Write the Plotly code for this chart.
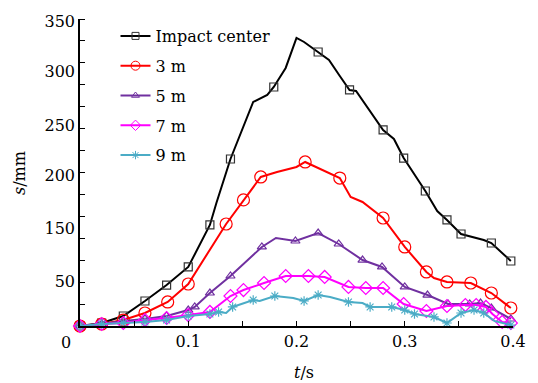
import plotly.graph_objects as go

# ---- data ----
t_center = [0, 0.02, 0.04, 0.06, 0.08, 0.10, 0.12, 0.126, 0.139, 0.16, 0.173, 0.179, 0.19, 0.20, 0.207,
            0.22, 0.23, 0.24, 0.249, 0.255, 0.28, 0.29, 0.299, 0.319, 0.33, 0.339, 0.352, 0.373, 0.38, 0.398]
s_center = [0, 3.4, 11.4, 28.5, 46.7, 67.3, 115.2, 140.2, 190.4, 255.4, 263.4, 272.5, 294.2, 328.4, 323.8,
            312.4, 303.3, 285.0, 269.1, 267.9, 223.5, 213.2, 191.5, 153.9, 131.1, 120.9, 104.9, 98.1, 94.6, 74.1]
m_center = [1, 1, 1, 1, 1, 1, 1, 0, 1, 0, 0, 1, 0, 0, 0,
            1, 0, 0, 1, 0, 1, 0, 1, 1, 0, 1, 1, 0, 1, 1]

t_3m = [0, 0.02, 0.04, 0.06, 0.081, 0.10, 0.135, 0.151, 0.167, 0.182, 0.20, 0.208, 0.24, 0.25, 0.261,
        0.28, 0.286, 0.30, 0.32, 0.327, 0.339, 0.361, 0.38, 0.398]
s_3m = [0, 2.3, 6.8, 14.8, 27.4, 47.9, 116.3, 143.7, 169.9, 175.6, 181.3, 187.0, 168.7, 147.1, 141.4,
        123.1, 112.9, 90.1, 61.6, 54.7, 50.2, 49.0, 37.6, 20.5]
m_3m = [1, 1, 1, 1, 1, 1, 1, 1, 1, 0, 0, 1, 1, 0, 0,
        1, 0, 1, 1, 0, 1, 1, 1, 1]

t_5m = [0, 0.02, 0.04, 0.06, 0.08, 0.10, 0.106, 0.12, 0.139, 0.168, 0.181, 0.199, 0.22, 0.239, 0.261,
        0.279, 0.30, 0.321, 0.34, 0.36, 0.37, 0.38, 0.398]
s_5m = [0, 2.3, 5.7, 8.0, 11.4, 18.2, 21.7, 37.6, 57.0, 90.1, 100.3, 96.9, 106.0, 93.5, 75.2,
        67.3, 44.5, 35.3, 25.1, 25.1, 26.2, 20.5, 8.0]
m_5m = [1, 1, 1, 1, 1, 1, 1, 1, 1, 1, 0, 1, 1, 1, 1,
        1, 1, 1, 1, 1, 1, 1, 1]

t_7m = [0, 0.02, 0.04, 0.06, 0.08, 0.10, 0.12, 0.139, 0.151, 0.17, 0.19, 0.211, 0.226, 0.248, 0.264,
        0.28, 0.299, 0.32, 0.339, 0.356, 0.366, 0.375, 0.381, 0.39, 0.398]
s_7m = [0, 2.3, 3.4, 6.8, 9.1, 12.5, 16.0, 34.2, 41.0, 49.0, 57.0, 57.0, 55.9, 44.5, 43.3,
        43.3, 25.1, 17.1, 22.8, 23.9, 23.9, 21.7, 13.7, 4.6, 3.4]
m_7m = [1] * len(t_7m)

t_9m = [0, 0.02, 0.04, 0.06, 0.08, 0.10, 0.12, 0.128, 0.135, 0.141, 0.16, 0.166, 0.18, 0.197, 0.207,
        0.22, 0.231, 0.248, 0.261, 0.268, 0.288, 0.30, 0.309, 0.327, 0.339, 0.352, 0.364, 0.373, 0.383, 0.398]
s_9m = [0, 2.3, 3.4, 4.6, 6.8, 11.4, 13.7, 16.0, 14.8, 21.7, 29.6, 28.5, 34.2, 31.9, 28.5,
        35.3, 33.1, 27.4, 26.2, 21.7, 21.7, 18.2, 13.7, 10.3, 3.4, 14.8, 18.2, 14.8, 5.7, 1.1]
m_9m = [1, 1, 1, 1, 1, 1, 1, 1, 0, 1, 1, 0, 1, 0, 1,
        1, 0, 1, 0, 1, 1, 1, 1, 1, 1, 1, 1, 1, 0, 1]

series_names = ["Impact center", "3 m", "5 m", "7 m", "9 m"]

x_ticks = [0.1, 0.2, 0.3, 0.4]
x_ticktext = ["0.1", "0.2", "0.3", "0.4"]
y_ticktext = ["350", "300", "250", "200", "150", "50"]

# ---- style ----
FONT = "DejaVu Serif"
styles = [
    dict(color="#000000", symbol="square-open", size=8, mcolor="#333333", lsize=7),
    dict(color="#ff0000", symbol="circle-open", size=12, mcolor="#ff0000", lsize=9),
    dict(color="#7030a0", symbol="triangle-up-open", size=8, mcolor="#7030a0", lsize=7),
    dict(color="#ff00ff", symbol="diamond-open", size=10, mcolor="#ff00ff", lsize=8),
    dict(color="#4bacc6", symbol="asterisk-open", size=8, mcolor="#4bacc6", lsize=7),
]
data = [(t_center, s_center, m_center), (t_3m, s_3m, m_3m), (t_5m, s_5m, m_5m),
        (t_7m, s_7m, m_7m), (t_9m, s_9m, m_9m)]

fig = go.Figure()
for i, (name, st, (tt, ss, mm)) in enumerate(zip(series_names, styles, data)):
    fig.add_trace(go.Scatter(x=tt, y=ss, mode="lines", line=dict(color=st["color"], width=2),
                             showlegend=False, hoverinfo="skip", cliponaxis=False))
    mx = [a for a, k in zip(tt, mm) if k]
    my = [b for b, k in zip(ss, mm) if k]
    fig.add_trace(go.Scatter(x=mx, y=my, mode="markers", cliponaxis=False,
                             marker=dict(symbol=st["symbol"], size=st["size"],
                                         color=st["mcolor"], line=dict(width=1.2, color=st["mcolor"])),
                             showlegend=False))
    fig.add_trace(go.Scatter(x=[None], y=[None], mode="lines+markers", name=name,
                             legendgroup=f"g{i}",
                             line=dict(color=st["color"], width=2),
                             marker=dict(symbol=st["symbol"], size=st["lsize"],
                                         color=st["mcolor"], line=dict(width=1, color=st["mcolor"]))))

# y label positions as drawn in the source figure
y_label_pos = [347.0, 289.9, 228.6, 171.6, 111.6, 50.5]

fig.update_layout(
    width=538, height=383,
    margin=dict(l=80, r=18, t=19, b=57),
    paper_bgcolor="white", plot_bgcolor="white",
    font=dict(family=FONT, size=16, color="black"),
    showlegend=True,
    legend=dict(x=0.082, y=1.0, xanchor="left", yanchor="top",
                bgcolor="rgba(0,0,0,0)", font=dict(family=FONT, size=16),
                tracegroupgap=6, itemwidth=30),
    xaxis=dict(range=[0, 0.4], showgrid=False, zeroline=False,
               showline=True, linecolor="black", linewidth=1.5,
               tickmode="array", tickvals=x_ticks, ticktext=x_ticktext,
               ticks="inside", ticklen=5, tickwidth=1.2, tickcolor="black",
               minor=dict(tickvals=[0.05, 0.15, 0.25, 0.35], ticks="inside", ticklen=5,
                          tickwidth=1.2, tickcolor="black"),
               tickfont=dict(family=FONT, size=16)),
    yaxis=dict(range=[0, 350], showgrid=False, zeroline=False,
               showline=True, linecolor="black", linewidth=1.5,
               tickmode="array", tickvals=y_label_pos, ticktext=y_ticktext,
               ticks="", tickfont=dict(family=FONT, size=16),
               minor=dict(tickvals=[25 * k for k in range(1, 15)], ticks="inside", ticklen=5,
                          tickwidth=1.2, tickcolor="black")),
    annotations=[
        dict(text="0", xref="paper", yref="paper", x=-0.032, y=-0.055,
             xanchor="center", yanchor="middle", showarrow=False,
             font=dict(family=FONT, size=16)),
        dict(text="<i>t</i>/s", xref="paper", yref="paper", x=(308 - 80) / 440, y=(326 - 372) / 307,
             xanchor="center", yanchor="middle", showarrow=False,
             font=dict(family=FONT, size=16)),
        dict(text="<i>s</i>/mm", xref="paper", yref="paper", x=(18 - 80) / 440, y=(326 - 173) / 307,
             xanchor="center", yanchor="middle", showarrow=False, textangle=-90,
             font=dict(family=FONT, size=16)),
    ],
)

fig.write_html("out.html")
